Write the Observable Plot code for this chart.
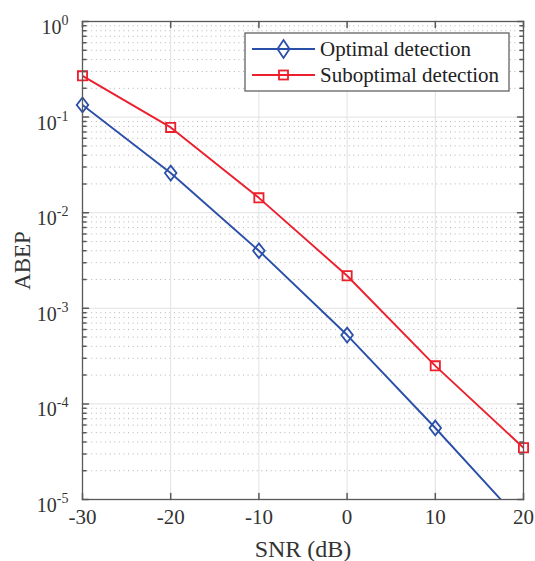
<!DOCTYPE html>
<html>
<head>
<meta charset="utf-8">
<script src="https://cdn.jsdelivr.net/npm/d3@7"></script>
<script src="https://cdn.jsdelivr.net/npm/@observablehq/plot@0.6"></script>
<style>
  body { margin: 0; background: #fff; }
  #wrap { position: relative; width: 535px; height: 561px; font-family: "Liberation Serif", "Times New Roman", serif; }
  #legend { position: absolute; }
</style>
</head>
<body>
<div id="wrap"></div>
<script>
// ---- data ----
const snr = [-30, -20, -10, 0, 10, 20];
const optimal = [0.134, 0.026, 0.0040, 5.25e-4, 5.6e-5, 5.5e-6];
const suboptimal = [0.27, 0.078, 0.0143, 2.19e-3, 2.5e-4, 3.48e-5];
const seriesNames = ["Optimal detection", "Suboptimal detection"];
const xTicks = [-30, -20, -10, 0, 10, 20];
const xTickLabels = ["-30", "-20", "-10", "0", "10", "20"];
const yTicks = [1e-5, 1e-4, 1e-3, 1e-2, 1e-1, 1];
const yExponents = ["-5", "-4", "-3", "-2", "-1", "0"];

const blue = "#2a4fa8";
const red = "#ec1f2d";
const axisColor = "#595959";
const font = "\"Liberation Serif\", \"Times New Roman\", serif";

// minor decade gridlines (2..9 x 10^k)
const minor = [];
for (let k = -5; k < 0; k++) for (let m = 2; m <= 9; m++) minor.push(m * Math.pow(10, k));

const optRows = snr.map((x, i) => ({snr: x, value: optimal[i], series: seriesNames[0]}));
const subRows = snr.map((x, i) => ({snr: x, value: suboptimal[i], series: seriesNames[1]}));

const xMin = xTicks[0], xMax = xTicks[xTicks.length - 1];
const yMin = yTicks[0], yMax = yTicks[yTicks.length - 1];
const inDomain = d => d.value >= yMin && d.value <= yMax;

const diamondSym = {draw(ctx, size) { const r = Math.sqrt(size / Math.PI); const w = r * 0.78;
  ctx.moveTo(0, -r); ctx.lineTo(w, 0); ctx.lineTo(0, r); ctx.lineTo(-w, 0); ctx.closePath(); }};
const squareSym = {draw(ctx, size) { const r = Math.sqrt(size / Math.PI); ctx.rect(-r, -r, 2 * r, 2 * r); }};
const tickShape = {draw(ctx, l) { ctx.moveTo(0, 0); ctx.lineTo(0, -l); }};

const chart = Plot.plot({
  width: 535, height: 561,
  marginLeft: 82, marginRight: 12, marginTop: 21, marginBottom: 62,
  style: {background: "#fff", color: "#333"},
  x: {domain: [xMin, xMax]},
  y: {type: "log", domain: [yMin, yMax]},
  marks: [
    Plot.ruleY(minor, {stroke: "#b4b4b4", strokeDasharray: "1,3.6"}),
    Plot.ruleY(yTicks, {stroke: "#e2e2e2"}),
    Plot.ruleX(xTicks, {stroke: "#e2e2e2"}),
    Plot.line(optRows, {x: "snr", y: "value", stroke: blue, strokeWidth: 1.9, clip: true}),
    Plot.line(subRows, {x: "snr", y: "value", stroke: red, strokeWidth: 1.9, clip: true}),
    Plot.dot(optRows, {filter: inDomain, x: "snr", y: "value", symbol: diamondSym, r: 7.4, stroke: blue, fill: "none", strokeWidth: 1.8}),
    Plot.dot(subRows, {filter: inDomain, x: "snr", y: "value", symbol: squareSym, r: 4.6, stroke: red, fill: "none", strokeWidth: 1.8}),
    // inward ticks
    Plot.vector(xTicks, {x: d => d, y: () => yMin, length: 6, rotate: 0, anchor: "start", shape: tickShape, stroke: axisColor}),
    Plot.vector(xTicks, {x: d => d, y: () => yMax, length: 6, rotate: 180, anchor: "start", shape: tickShape, stroke: axisColor}),
    Plot.vector(yTicks, {x: () => xMin, y: d => d, length: 6, rotate: 90, anchor: "start", shape: tickShape, stroke: axisColor}),
    Plot.vector(yTicks, {x: () => xMax, y: d => d, length: 6, rotate: -90, anchor: "start", shape: tickShape, stroke: axisColor}),
    Plot.vector(minor, {x: () => xMin, y: d => d, length: 3.5, rotate: 90, anchor: "start", shape: tickShape, stroke: axisColor}),
    Plot.vector(minor, {x: () => xMax, y: d => d, length: 3.5, rotate: -90, anchor: "start", shape: tickShape, stroke: axisColor}),
    Plot.frame({stroke: axisColor, strokeWidth: 1.3}),
    Plot.axisX(xTicks, {anchor: "bottom", tickSize: 0, tickPadding: 10, fontSize: 21,
      tickFormat: d => xTickLabels[xTicks.indexOf(d)], label: null, fill: "#333"}),
    Plot.axisX([], {anchor: "bottom", tickSize: 0, label: "SNR (dB)", labelAnchor: "center", labelArrow: "none",
      labelOffset: 57, fontSize: 24, fill: "#333"}),
    Plot.axisY(yTicks, {anchor: "left", tickSize: 0, tickPadding: 14, fontSize: 20, dy: 6,
      tickFormat: d => "10^" + yExponents[yTicks.indexOf(d)], label: null, fill: "#333"}),
    Plot.axisY([], {anchor: "left", tickSize: 0, label: "ABEP", labelAnchor: "center", labelArrow: "none",
      labelOffset: 69, fontSize: 23, fill: "#333"})
  ]
});

// superscripts for the log tick labels
d3.select(chart).selectAll('g[aria-label="y-axis tick label"] text').each(function() {
  const t = d3.select(this);
  const s = t.text();
  if (s.indexOf("^") < 0) return;
  const [base, exp] = s.split("^");
  t.text(base);
  t.append("tspan").attr("dy", "-9").attr("font-size", 14).text(exp);
});
// serif face on every chart text
d3.select(chart).style("font-family", font);
d3.select(chart).selectAll("g, text").style("font-family", font);

const wrap = document.getElementById("wrap");
wrap.appendChild(chart);

// legend overlay
const lg = d3.select(wrap).append("svg").attr("id", "legend")
  .attr("width", 266).attr("height", 60)
  .style("left", "244px").style("top", "32px");
lg.append("rect").attr("x", 1).attr("y", 1).attr("width", 264).attr("height", 58)
  .attr("fill", "#fff").attr("stroke", "#555").attr("stroke-width", 1.2);
const entries = [
  {name: seriesNames[0], color: blue, sym: "diamond"},
  {name: seriesNames[1], color: red, sym: "square"}
];
entries.forEach((e, i) => {
  const cy = 17 + i * 26;
  lg.append("line").attr("x1", 8).attr("x2", 71).attr("y1", cy).attr("y2", cy)
    .attr("stroke", e.color).attr("stroke-width", 1.9);
  if (e.sym === "diamond") {
    lg.append("path").attr("d", `M39.5,${cy - 9}L45.5,${cy}L39.5,${cy + 9}L33.5,${cy}Z`)
      .attr("fill", "none").attr("stroke", e.color).attr("stroke-width", 1.8);
  } else {
    lg.append("rect").attr("x", 35).attr("y", cy - 4.5).attr("width", 9).attr("height", 9)
      .attr("fill", "none").attr("stroke", e.color).attr("stroke-width", 1.8);
  }
  lg.append("text").attr("x", 76).attr("y", cy).attr("dy", "0.35em")
    .style("font-family", font).attr("font-size", 21).attr("fill", "#222").text(e.name);
});
</script>
</body>
</html>
